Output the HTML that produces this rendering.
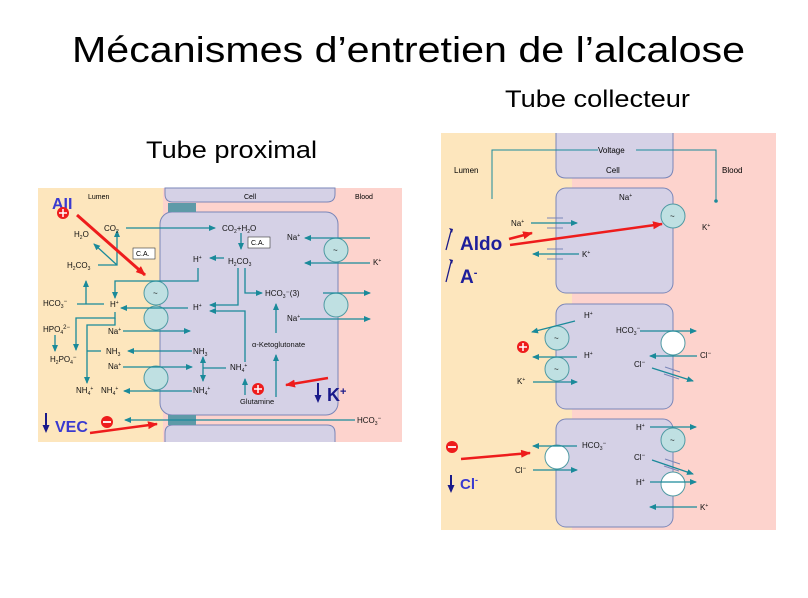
<!DOCTYPE html>
<html><head><meta charset="utf-8"><style>
html,body{margin:0;padding:0;background:#fff;}
svg{display:block;font-family:"Liberation Sans",sans-serif;}
.t{font-size:8px;fill:#111;}
</style></head><body>
<svg width="808" height="598" viewBox="0 0 808 598" xmlns="http://www.w3.org/2000/svg">
<defs>
<marker id="a" markerWidth="8" markerHeight="8" refX="6" refY="3" orient="auto" markerUnits="userSpaceOnUse"><path d="M0,0 L7,3 L0,6 z" fill="#1a8a9a"/></marker>
<marker id="r" markerWidth="12" markerHeight="10" refX="9" refY="4" orient="auto" markerUnits="userSpaceOnUse"><path d="M0,0 L10,4 L0,8 z" fill="#ee1c1c"/></marker>
</defs>

<text x="72" y="62" font-size="36" textLength="673" lengthAdjust="spacingAndGlyphs">Mécanismes d’entretien de l’alcalose</text>
<text x="505" y="107" font-size="24" textLength="185" lengthAdjust="spacingAndGlyphs">Tube collecteur</text>
<text x="146" y="158" font-size="24" textLength="171" lengthAdjust="spacingAndGlyphs">Tube proximal</text>

<!-- LEFT PANEL -->
<rect x="38" y="188" width="125" height="254" fill="#fde6bd"/>
<rect x="163" y="188" width="239" height="254" fill="#fdd3cd"/>
<path d="M165,188 H335 V194 Q335,202 327,202 H173 Q165,202 165,194 Z" fill="#d5d1e6" stroke="#7a86b8"/>
<rect x="160" y="212" width="178" height="203" rx="12" fill="#d5d1e6" stroke="#7a86b8"/>
<path d="M165,442 V433 Q165,425 173,425 H327 Q335,425 335,433 V442" fill="#d5d1e6" stroke="#7a86b8"/>
<rect x="168" y="203" width="28" height="9" fill="#5e9aa8"/>
<rect x="168" y="415" width="28" height="10" fill="#5e9aa8"/>
<g fill="#bfe0e2" stroke="#4f9aa3">
<circle cx="156" cy="293" r="12"/><circle cx="156" cy="318" r="12"/><circle cx="156" cy="378" r="12"/>
<circle cx="336" cy="250" r="12"/><circle cx="336" cy="305" r="12"/>
</g>
<text x="153" y="296" class="t">~</text><text x="333" y="253" class="t">~</text>

<text x="88" y="199" font-size="7">Lumen</text>
<text x="244" y="199" font-size="7">Cell</text>
<text x="355" y="199" font-size="7">Blood</text>

<g stroke="#1a8a9a" stroke-width="1.3" fill="none">
<line x1="126" y1="228" x2="215" y2="228" marker-end="url(#a)"/>
<line x1="241" y1="233" x2="241" y2="249" marker-end="url(#a)"/>
<line x1="224" y1="258" x2="210" y2="258" marker-end="url(#a)"/>
<polyline points="98,265 117,265 117,231" marker-end="url(#a)"/>
<line x1="117" y1="265" x2="94" y2="244" marker-end="url(#a)"/>
<line x1="77" y1="304" x2="104" y2="304"/>
<line x1="86" y1="304" x2="86" y2="281" marker-end="url(#a)"/>
<polyline points="198,268 198,281 115,281 115,298" marker-end="url(#a)"/>
<line x1="188" y1="308" x2="121" y2="308" marker-end="url(#a)"/>
<polyline points="238,268 238,305 210,305" marker-end="url(#a)"/>
<polyline points="245,268 245,293 262,293" marker-end="url(#a)"/>
<line x1="323" y1="293" x2="370" y2="293" marker-end="url(#a)"/>
<line x1="370" y1="238" x2="305" y2="238" marker-end="url(#a)"/>
<line x1="370" y1="263" x2="305" y2="263" marker-end="url(#a)"/>
<line x1="300" y1="319" x2="370" y2="319" marker-end="url(#a)"/>
<line x1="276" y1="333" x2="276" y2="304" marker-end="url(#a)"/>
<line x1="276" y1="397" x2="276" y2="355" marker-end="url(#a)"/>
<polyline points="245,362 245,311 210,311" marker-end="url(#a)"/>
<line x1="245" y1="395" x2="245" y2="379" marker-end="url(#a)"/>
<line x1="226" y1="368" x2="203" y2="368"/>
<line x1="203" y1="368" x2="203" y2="357" marker-end="url(#a)"/>
<line x1="203" y1="368" x2="203" y2="381" marker-end="url(#a)"/>
<line x1="192" y1="351" x2="128" y2="351" marker-end="url(#a)"/>
<line x1="123" y1="331" x2="190" y2="331" marker-end="url(#a)"/>
<line x1="123" y1="367" x2="192" y2="367" marker-end="url(#a)"/>
<line x1="192" y1="391" x2="124" y2="391" marker-end="url(#a)"/>
<polyline points="115,312 115,318 76,318 76,350" marker-end="url(#a)"/>
<polyline points="115,318 115,325 87,325 87,383" marker-end="url(#a)"/>
<line x1="87" y1="351" x2="101" y2="351"/>
<line x1="55" y1="335" x2="55" y2="351" marker-end="url(#a)"/>
<line x1="355" y1="420" x2="125" y2="420" marker-end="url(#a)"/>
</g>

<rect x="248" y="237" width="22" height="11" fill="#fff" stroke="#333" stroke-width="0.6"/>
<text x="251" y="245" font-size="7">C.A.</text>
<rect x="133" y="248" width="22" height="11" fill="#fff" stroke="#333" stroke-width="0.6"/>
<text x="136" y="256" font-size="7">C.A.</text>

<g class="t">
<text x="104" y="231">CO<tspan font-size="5" dy="2">2</tspan></text>
<text x="222" y="231">CO<tspan font-size="5" dy="2">2</tspan><tspan dy="-2">+H</tspan><tspan font-size="5" dy="2">2</tspan><tspan dy="-2">O</tspan></text>
<text x="74" y="237">H<tspan font-size="5" dy="2">2</tspan><tspan dy="-2">O</tspan></text>
<text x="67" y="268">H<tspan font-size="5" dy="2">2</tspan><tspan dy="-2">CO</tspan><tspan font-size="5" dy="2">3</tspan></text>
<text x="228" y="264">H<tspan font-size="5" dy="2">2</tspan><tspan dy="-2">CO</tspan><tspan font-size="5" dy="2">3</tspan></text>
<text x="193" y="262">H<tspan font-size="5" dy="-3">+</tspan></text>
<text x="43" y="306">HCO<tspan font-size="5" dy="2">3</tspan><tspan font-size="6" dy="-5">−</tspan></text>
<text x="110" y="307">H<tspan font-size="5" dy="-3">+</tspan></text>
<text x="193" y="310">H<tspan font-size="5" dy="-3">+</tspan></text>
<text x="265" y="296">HCO<tspan font-size="5" dy="2">3</tspan><tspan dy="-2">⁻(3)</tspan></text>
<text x="287" y="240">Na<tspan font-size="5" dy="-3">+</tspan></text>
<text x="373" y="265">K<tspan font-size="5" dy="-3">+</tspan></text>
<text x="287" y="321">Na<tspan font-size="5" dy="-3">+</tspan></text>
<text x="252" y="347" font-size="7.5">α-Ketoglutonate</text>
<text x="240" y="404" font-size="7.5">Glutamine</text>
<text x="230" y="370">NH<tspan font-size="5" dy="2">4</tspan><tspan font-size="5" dy="-5">+</tspan></text>
<text x="193" y="354">NH<tspan font-size="5" dy="2">3</tspan></text>
<text x="193" y="393">NH<tspan font-size="5" dy="2">4</tspan><tspan font-size="5" dy="-5">+</tspan></text>
<text x="106" y="354">NH<tspan font-size="5" dy="2">3</tspan></text>
<text x="108" y="334">Na<tspan font-size="5" dy="-3">+</tspan></text>
<text x="108" y="369">Na<tspan font-size="5" dy="-3">+</tspan></text>
<text x="101" y="393">NH<tspan font-size="5" dy="2">4</tspan><tspan font-size="5" dy="-5">+</tspan></text>
<text x="76" y="393">NH<tspan font-size="5" dy="2">4</tspan><tspan font-size="5" dy="-5">+</tspan></text>
<text x="43" y="332">HPO<tspan font-size="5" dy="2">4</tspan><tspan font-size="6" dy="-5">2−</tspan></text>
<text x="50" y="362">H<tspan font-size="5" dy="2">2</tspan><tspan dy="-2">PO</tspan><tspan font-size="5" dy="2">4</tspan><tspan font-size="6" dy="-5">−</tspan></text>
<text x="357" y="423">HCO<tspan font-size="5" dy="2">3</tspan><tspan font-size="6" dy="-5">−</tspan></text>
</g>

<text x="52" y="209" font-size="16" font-weight="bold" fill="#3a3ad0">AII</text>
<circle cx="63" cy="213" r="6" fill="#ee1c1c"/><path d="M59,213h8M63,209v8" stroke="#fff" stroke-width="1.5"/>
<line x1="77" y1="215" x2="145" y2="275" stroke="#ee1c1c" stroke-width="3" marker-end="url(#r)"/>
<line x1="46" y1="413" x2="46" y2="426" stroke="#1a1a8a" stroke-width="2"/>
<path d="M42.5,425 H49.5 L46,433 Z" fill="#1a1a8a"/>
<text x="55" y="432" font-size="16" font-weight="bold" fill="#3a3ad0">VEC</text>
<circle cx="107" cy="422" r="6" fill="#ee1c1c"/><path d="M103,422h8" stroke="#fff" stroke-width="1.8"/>
<line x1="90" y1="433" x2="157" y2="424" stroke="#ee1c1c" stroke-width="2.5" marker-end="url(#r)"/>
<line x1="318" y1="383" x2="318" y2="396" stroke="#1a1a8a" stroke-width="2"/>
<path d="M314.5,395 H321.5 L318,403 Z" fill="#1a1a8a"/>
<text x="327" y="401" font-size="18" font-weight="bold" fill="#1a1a8a">K<tspan font-size="11" dy="-6">+</tspan></text>
<line x1="328" y1="378" x2="286" y2="385" stroke="#ee1c1c" stroke-width="2.5" marker-end="url(#r)"/>
<circle cx="258" cy="389" r="6" fill="#ee1c1c"/><path d="M254,389h8M258,385v8" stroke="#fff" stroke-width="1.5"/>

<!-- RIGHT PANEL -->
<rect x="441" y="133" width="131" height="397" fill="#fde6bd"/>
<rect x="572" y="133" width="204" height="397" fill="#fdd3cd"/>
<path d="M556,133 V168 Q556,178 566,178 H663 Q673,178 673,168 V133" fill="#d5d1e6" stroke="#7a86b8"/>
<rect x="556" y="188" width="117" height="105" rx="10" fill="#d5d1e6" stroke="#7a86b8"/>
<rect x="556" y="304" width="117" height="105" rx="10" fill="#d5d1e6" stroke="#7a86b8"/>
<rect x="556" y="419" width="117" height="108" rx="10" fill="#d5d1e6" stroke="#7a86b8"/>
<polyline points="492,199 492,150 598,150" stroke="#1a8a9a" fill="none"/>
<polyline points="636,150 716,150 716,201" stroke="#1a8a9a" fill="none"/>
<circle cx="716" cy="201" r="1.8" fill="#1a8a9a"/>
<text x="598" y="153" font-size="8">Voltage</text>
<text x="454" y="173" font-size="8">Lumen</text>
<text x="606" y="173" font-size="8">Cell</text>
<text x="722" y="173" font-size="8">Blood</text>

<g fill="#bfe0e2" stroke="#4f9aa3">
<circle cx="673" cy="216" r="12"/><circle cx="557" cy="338" r="12"/><circle cx="557" cy="369" r="12"/><circle cx="673" cy="440" r="12"/>
</g>
<g fill="#fff" stroke="#4f9aa3">
<circle cx="673" cy="343" r="12"/><circle cx="557" cy="457" r="12"/><circle cx="673" cy="484" r="12"/>
</g>
<g class="t"><text x="670" y="219">~</text><text x="554" y="341">~</text><text x="554" y="372">~</text><text x="670" y="443">~</text></g>

<g stroke="#1a8a9a" stroke-width="1.3" fill="none">
<line x1="531" y1="223" x2="577" y2="223" marker-end="url(#a)"/>
<line x1="579" y1="254" x2="533" y2="254" marker-end="url(#a)"/>
<line x1="575" y1="321" x2="532" y2="332" marker-end="url(#a)"/>
<line x1="577" y1="357" x2="533" y2="357" marker-end="url(#a)"/>
<line x1="533" y1="382" x2="577" y2="382" marker-end="url(#a)"/>
<line x1="640" y1="331" x2="696" y2="331" marker-end="url(#a)"/>
<line x1="697" y1="356" x2="650" y2="356" marker-end="url(#a)"/>
<line x1="652" y1="368" x2="693" y2="381" marker-end="url(#a)"/>
<line x1="577" y1="446" x2="533" y2="446" marker-end="url(#a)"/>
<line x1="533" y1="470" x2="577" y2="470" marker-end="url(#a)"/>
<line x1="650" y1="427" x2="696" y2="427" marker-end="url(#a)"/>
<line x1="652" y1="460" x2="693" y2="474" marker-end="url(#a)"/>
<line x1="650" y1="482" x2="696" y2="482" marker-end="url(#a)"/>
<line x1="697" y1="507" x2="650" y2="507" marker-end="url(#a)"/>
</g>
<g stroke="#7a86b8" stroke-width="1">
<line x1="547" y1="218" x2="563" y2="218"/><line x1="547" y1="228" x2="563" y2="228"/>
<line x1="547" y1="249" x2="563" y2="249"/><line x1="547" y1="259" x2="563" y2="259"/>
<line x1="665" y1="367" x2="680" y2="372"/><line x1="664" y1="374" x2="679" y2="379"/>
<line x1="665" y1="459" x2="680" y2="464"/><line x1="664" y1="466" x2="679" y2="471"/>
</g>

<g class="t">
<text x="619" y="200">Na<tspan font-size="5" dy="-3">+</tspan></text>
<text x="702" y="230">K<tspan font-size="5" dy="-3">+</tspan></text>
<text x="511" y="226">Na<tspan font-size="5" dy="-3">+</tspan></text>
<text x="582" y="257">K<tspan font-size="5" dy="-3">+</tspan></text>
<text x="584" y="318">H<tspan font-size="5" dy="-3">+</tspan></text>
<text x="584" y="358">H<tspan font-size="5" dy="-3">+</tspan></text>
<text x="517" y="384">K<tspan font-size="5" dy="-3">+</tspan></text>
<text x="616" y="333">HCO<tspan font-size="5" dy="2">3</tspan><tspan font-size="6" dy="-5">−</tspan></text>
<text x="700" y="358">Cl<tspan font-size="6" dy="-3">−</tspan></text>
<text x="634" y="367">Cl<tspan font-size="6" dy="-3">−</tspan></text>
<text x="582" y="448">HCO<tspan font-size="5" dy="2">3</tspan><tspan font-size="6" dy="-5">−</tspan></text>
<text x="515" y="473">Cl<tspan font-size="6" dy="-3">−</tspan></text>
<text x="636" y="430">H<tspan font-size="5" dy="-3">+</tspan></text>
<text x="634" y="460">Cl<tspan font-size="6" dy="-3">−</tspan></text>
<text x="636" y="485">H<tspan font-size="5" dy="-3">+</tspan></text>
<text x="700" y="510">K<tspan font-size="5" dy="-3">+</tspan></text>
</g>

<line x1="446" y1="250" x2="451" y2="231" stroke="#1a1a8a" stroke-width="1.3"/>
<path d="M449,228 l4,1 l-1,4 z" fill="#1a1a8a"/>
<text x="460" y="250" font-size="19" font-weight="bold" fill="#1e1e9a">Aldo</text>
<line x1="446" y1="282" x2="451" y2="262" stroke="#1a1a8a" stroke-width="1.3"/>
<path d="M449,259 l4,1 l-1,4 z" fill="#1a1a8a"/>
<text x="460" y="283" font-size="19" font-weight="bold" fill="#1e1e9a">A<tspan font-size="11" dy="-7">-</tspan></text>
<line x1="509" y1="239" x2="532" y2="233" stroke="#ee1c1c" stroke-width="2.5" marker-end="url(#r)"/>
<line x1="510" y1="245" x2="662" y2="224" stroke="#ee1c1c" stroke-width="2.5" marker-end="url(#r)"/>
<circle cx="523" cy="347" r="6" fill="#ee1c1c"/><path d="M519,347h8M523,343v8" stroke="#fff" stroke-width="1.5"/>
<circle cx="452" cy="447" r="6" fill="#ee1c1c"/><path d="M448,447h8" stroke="#fff" stroke-width="1.8"/>
<line x1="461" y1="459" x2="530" y2="453" stroke="#ee1c1c" stroke-width="2.5" marker-end="url(#r)"/>
<line x1="451" y1="475" x2="451" y2="486" stroke="#1a1a8a" stroke-width="2"/>
<path d="M447.5,485 H454.5 L451,493 Z" fill="#1a1a8a"/>
<text x="460" y="489" font-size="15" font-weight="bold" fill="#3a3ad0">Cl<tspan font-size="9" dy="-6">-</tspan></text>
</svg>
</body></html>
